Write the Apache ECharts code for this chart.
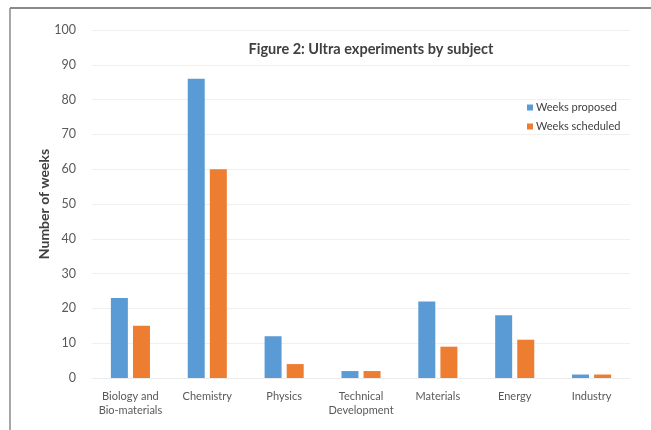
<!DOCTYPE html>
<html>
<head>
<meta charset="utf-8">
<script src="https://cdn.jsdelivr.net/npm/echarts@6/dist/echarts.min.js"></script>
<style>
  html, body { margin: 0; padding: 0; background: #fff; }
  #chart { width: 651px; height: 430px; }
</style>
</head>
<body>
<div id="chart"></div>
<script>
// Subjects along the x axis
const subjects = ['Biology and\nBio-materials', 'Chemistry', 'Physics', 'Technical\nDevelopment', 'Materials', 'Energy', 'Industry'];
// Weeks per subject
const weeksProposed = [23, 86, 12, 2, 22, 18, 1];
const weeksScheduled = [15, 60, 4, 2, 9, 11, 1];
// Value axis ticks
const yTicks = [0, 10, 20, 30, 40, 50, 60, 70, 80, 90, 100];

const FONT = 'Lato, "Open Sans", sans-serif';

const chart = echarts.init(document.getElementById('chart'), null, { renderer: 'canvas' });
chart.setOption({
  backgroundColor: '#ffffff',
  textStyle: { fontFamily: FONT },
  title: {
    text: 'Figure 2: Ultra experiments by subject',
    left: 366,
    textAlign: 'center',
    top: 37,
    textStyle: { fontFamily: FONT, fontSize: 14.5, fontWeight: 'bold', color: '#404040' }
  },
  legend: {
    orient: 'vertical',
    left: 522,
    top: 97,
    itemWidth: 6,
    itemHeight: 6,
    itemGap: 8,
    icon: 'rect',
    textStyle: { fontFamily: FONT, fontSize: 11, color: '#404040', padding: [0, 0, 0, -2] },
    data: ['Weeks proposed', 'Weeks scheduled']
  },
  grid: { left: 92, right: 21, top: 30, bottom: 52 },
  xAxis: {
    type: 'category',
    data: subjects,
    axisLine: { show: true, lineStyle: { color: '#ececec' } },
    axisTick: { show: false },
    axisLabel: { fontFamily: FONT, fontSize: 11, color: '#595959', margin: 11, lineHeight: 14, interval: 0 }
  },
  yAxis: {
    type: 'value',
    min: yTicks[0],
    max: yTicks[yTicks.length - 1],
    interval: 10,
    axisLine: { show: false },
    axisTick: { show: false },
    axisLabel: { fontFamily: FONT, fontSize: 12.5, color: '#595959', margin: 16 },
    splitLine: { lineStyle: { color: '#f0f0f0', width: 1 } }
  },
  series: [
    {
      name: 'Weeks proposed',
      type: 'bar',
      data: weeksProposed,
      barWidth: 17,
      barGap: '30%',
      itemStyle: { color: '#5B9BD5' }
    },
    {
      name: 'Weeks scheduled',
      type: 'bar',
      data: weeksScheduled,
      barWidth: 17,
      itemStyle: { color: '#ED7D31' }
    }
  ],
  graphic: [
    // value axis title, centred on the plot height
    {
      type: 'text',
      x: 44,
      y: 204,
      rotation: Math.PI / 2,
      style: {
        text: 'Number of weeks',
        align: 'center',
        verticalAlign: 'middle',
        fill: '#404040',
        font: 'bold 14px ' + FONT
      }
    },
    // frame edges
    { type: 'line', shape: { x1: 10, y1: 8, x2: 651, y2: 8 }, style: { stroke: '#8a8a8a', lineWidth: 2 } },
    { type: 'line', shape: { x1: 10, y1: 8, x2: 10, y2: 430 }, style: { stroke: '#8a8a8a', lineWidth: 1.5 } }
  ]
});
</script>
</body>
</html>
